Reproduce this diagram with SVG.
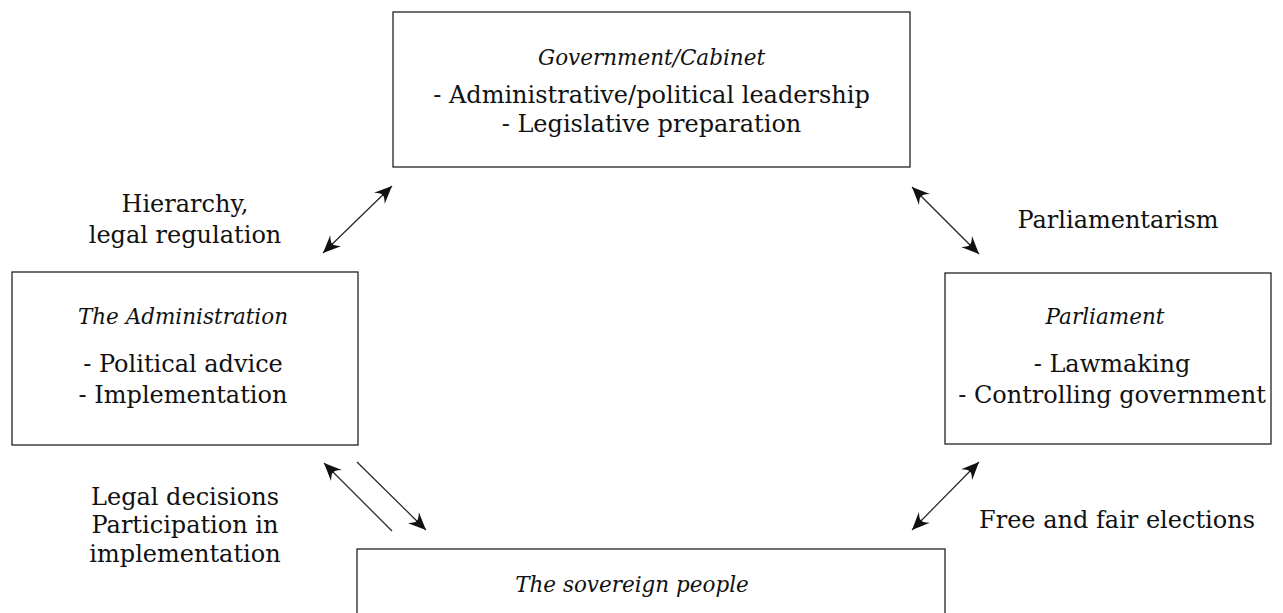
<svg xmlns="http://www.w3.org/2000/svg" width="1283" height="613" viewBox="0 0 1283 613">
  <style>
    .box { fill: #fff; stroke: #222; stroke-width: 1.3; }
    .t { font-family: "DejaVu Serif", "Liberation Serif", serif; font-size: 24px; fill: #111; text-anchor: middle; }
    .ti { font-family: "DejaVu Serif", "Liberation Serif", serif; font-size: 21.5px; font-style: italic; fill: #111; text-anchor: middle; }
    .arrow { fill: none; stroke: #222; stroke-width: 1.2; }
  </style>
  <defs>
    <!-- barbed arrowhead, tip at the path end -->
    <marker id="head" markerUnits="userSpaceOnUse" markerWidth="22" markerHeight="22" viewBox="-18 -9 20 18" refX="0" refY="0" orient="auto-start-reverse">
      <path d="M0,0 L-16,-7 Q-11,-1.5 -12,0 Q-11,1.5 -16,7 Z" fill="#111"/>
    </marker>
  </defs>

  <rect width="1283" height="613" fill="#fff"/>

  <g id="government">
    <rect class="box" x="393" y="12" width="517" height="155"/>
    <text class="ti" x="651.5" y="65">Government/Cabinet</text>
    <text class="t" x="651.5" y="103">- Administrative/political leadership</text>
    <text class="t" x="651.5" y="132">- Legislative preparation</text>
  </g>

  <g id="administration">
    <rect class="box" x="12" y="272" width="346" height="173"/>
    <text class="ti" x="183" y="324">The Administration</text>
    <text class="t" x="183" y="372">- Political advice</text>
    <text class="t" x="183" y="403">- Implementation</text>
  </g>

  <g id="parliament">
    <rect class="box" x="945" y="273" width="326" height="171"/>
    <text class="ti" x="1105" y="324">Parliament</text>
    <text class="t" x="1112" y="372">- Lawmaking</text>
    <text class="t" x="1112" y="403">- Controlling government</text>
  </g>

  <g id="people">
    <rect class="box" x="357" y="549" width="588" height="80"/>
    <text class="ti" x="632" y="592">The sovereign people</text>
  </g>

  <g id="connectors">
    <path class="arrow" d="M323,253 L392,186" marker-start="url(#head)" marker-end="url(#head)"/>
    <path class="arrow" d="M912,187 L979,254" marker-start="url(#head)" marker-end="url(#head)"/>
    <path class="arrow" d="M979,462 L912,530" marker-start="url(#head)" marker-end="url(#head)"/>
    <path class="arrow" d="M392,531 L324,463" marker-end="url(#head)"/>
    <path class="arrow" d="M357,462 L426,530" marker-end="url(#head)"/>
  </g>

  <g id="labels">
    <text class="t" x="185" y="212">Hierarchy,</text>
    <text class="t" x="185" y="243">legal regulation</text>
    <text class="t" x="1118" y="228">Parliamentarism</text>
    <text class="t" x="185" y="505">Legal decisions</text>
    <text class="t" x="185" y="533">Participation in</text>
    <text class="t" x="185" y="562">implementation</text>
    <text class="t" x="1117" y="528">Free and fair elections</text>
  </g>
</svg>
